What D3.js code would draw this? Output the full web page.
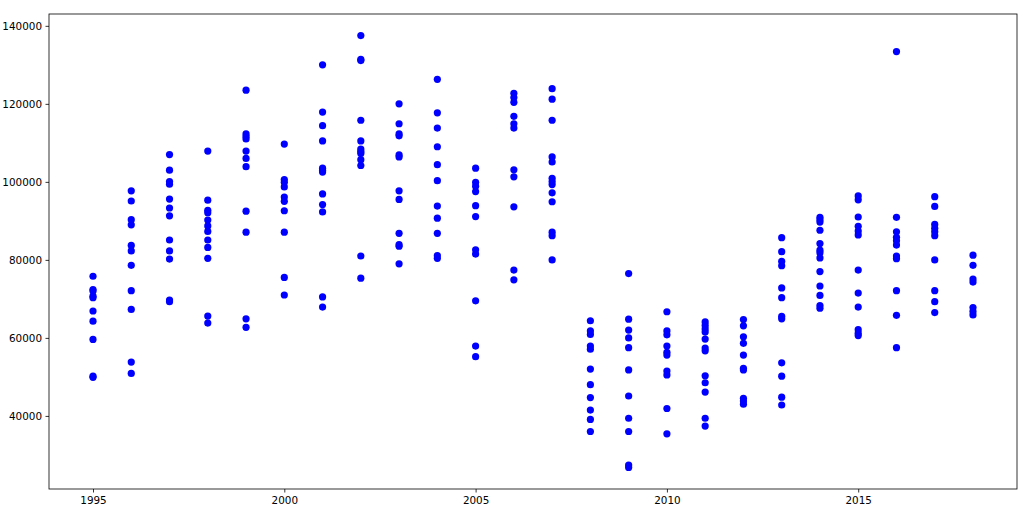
<!DOCTYPE html>
<html>
<head>
<meta charset="utf-8">
<script src="https://cdn.jsdelivr.net/npm/d3@7"></script>
<style>
  body { margin: 0; background: #fff; }
  .axis text { font-family: "DejaVu Sans", sans-serif; font-size: 10.4px; fill: #000; }
  .axis path, .axis line { stroke: #000; stroke-width: 0.8px; }
</style>
</head>
<body>
<div id="chart"></div>
<script>

	/* ---------------------------------
		Data
	------------------------------------*/

	// years on the x axis
	var years = [1995, 1996, 1997, 1998, 1999, 2000, 2001, 2002, 2003, 2004, 2005, 2006,
		2007, 2008, 2009, 2010, 2011, 2012, 2013, 2014, 2015, 2016, 2017, 2018];

	// values for each year (same order as years)
	var values1995 = [75800, 72400, 72000, 70700, 70300, 66900, 64300, 59600, 50200, 49900];
	var values1996 = [97700, 95100, 90300, 89000, 83700, 82300, 78600, 72100, 67300, 53800, 50900];
	var values1997 = [107000, 103000, 100100, 99400, 95600, 93300, 91300, 85100, 82300, 80200, 69700, 69300];
	var values1998 = [107900, 95300, 92700, 92100, 90200, 88700, 87300, 85100, 83200, 80400, 65600, 63800];
	var values1999 = [123500, 112300, 111600, 111000, 107900, 106000, 103900, 92500, 87100, 64900, 62700];
	var values2000 = [109700, 100600, 99900, 98700, 96100, 95000, 92600, 87100, 75500, 71000];
	var values2001 = [130000, 117900, 114400, 110500, 103500, 103000, 102500, 96900, 94200, 92300, 70500, 67900];
	var values2002 = [137500, 131400, 131100, 115800, 110500, 108400, 107800, 107300, 105700, 104200, 81000, 75300];
	var values2003 = [120000, 114900, 112300, 111800, 106900, 106400, 97700, 95500, 86800, 83900, 83500, 79000];
	var values2004 = [126300, 117700, 113800, 109000, 104400, 100300, 93800, 90700, 86800, 81100, 80400];
	var values2005 = [103500, 99900, 98900, 97500, 93900, 91100, 82600, 81500, 69500, 57900, 55200];
	var values2006 = [122700, 121600, 120400, 116800, 114900, 113800, 103100, 101300, 93600, 77400, 74900];
	var values2007 = [123900, 121200, 115800, 106400, 105100, 100900, 100100, 99300, 97200, 94900, 87100, 86200, 80000];
	var values2008 = [64400, 61800, 60900, 57900, 57100, 52000, 48000, 44700, 41500, 39100, 36000];
	var values2009 = [76500, 64800, 62000, 60000, 57500, 51800, 45100, 39400, 36000, 27400, 26800];
	var values2010 = [66700, 61800, 60800, 57900, 56300, 55600, 51500, 50500, 41900, 35400];
	var values2011 = [64100, 63200, 62300, 61500, 59700, 57400, 56700, 50300, 48500, 46100, 39400, 37400];
	var values2012 = [64700, 63100, 60300, 58600, 55600, 52200, 51800, 44500, 43800, 43000];
	var values2013 = [85700, 82100, 79600, 78500, 72800, 70300, 65500, 64900, 53600, 50200, 44800, 42800];
	var values2014 = [90900, 90300, 89700, 87600, 84200, 82500, 81800, 80500, 77000, 73300, 70900, 68300, 67600];
	var values2015 = [96400, 95400, 91000, 88600, 87400, 86400, 77400, 71500, 67900, 62100, 61200, 60600];
	var values2016 = [133400, 90900, 87200, 85800, 84900, 83800, 81000, 80300, 72100, 65800, 57500];
	var values2017 = [96200, 93700, 89100, 88100, 87200, 86200, 80000, 72100, 69300, 66500];
	var values2018 = [81200, 78600, 75100, 74300, 67800, 66800, 65900];

	var valuesByYear = [values1995, values1996, values1997, values1998, values1999, values2000,
		values2001, values2002, values2003, values2004, values2005, values2006,
		values2007, values2008, values2009, values2010, values2011, values2012,
		values2013, values2014, values2015, values2016, values2017, values2018];

	var xTicks = [1995, 2000, 2005, 2010, 2015];
	var yTicks = [40000, 60000, 80000, 100000, 120000, 140000];

	// flatten into points
	var points = [];
	years.forEach(function(yr, i) {
		valuesByYear[i].forEach(function(v) {
			points.push({ year: yr, value: v });
		});
	});


	/* ---------------------------------
		Setup
	------------------------------------*/

	var w = 1023;
	var h = 518;
	var margin = { top: 14, right: 6, bottom: 29, left: 49 };

	// matplotlib style 5% margins around the data
	var xMin = d3.min(points, function(d) { return d.year; });
	var xMax = d3.max(points, function(d) { return d.year; });
	var yMin = d3.min(points, function(d) { return d.value; });
	var yMax = d3.max(points, function(d) { return d.value; });
	var xPad = (xMax - xMin) * 0.05;
	var yPad = (yMax - yMin) * 0.05;

	var xScale = d3.scaleLinear()
		.domain([xMin - xPad, xMax + xPad])
		.range([margin.left, w - margin.right]);

	var yScale = d3.scaleLinear()
		.domain([yMin - yPad, yMax + yPad])
		.range([h - margin.bottom, margin.top]);

	var xAxis = d3.axisBottom(xScale)
		.tickValues(xTicks)
		.tickFormat(d3.format("d"))
		.tickSize(3.5)
		.tickPadding(4.5);

	var yAxis = d3.axisLeft(yScale)
		.tickValues(yTicks)
		.tickFormat(d3.format("d"))
		.tickSize(3.5)
		.tickPadding(3.5);


	/* ---------------------------------
		Draw
	------------------------------------*/

	var svg = d3.select("#chart")
		.append("svg")
		.attr("width", w)
		.attr("height", h);

	svg.selectAll("circle")
		.data(points)
		.enter()
		.append("circle")
		.attr("cx", function(d) { return xScale(d.year); })
		.attr("cy", function(d) { return yScale(d.value); })
		.attr("r", 3.6)
		.attr("fill", "#0000ff");

	svg.append("g")
		.attr("class", "axis")
		.attr("transform", "translate(0," + (h - margin.bottom) + ")")
		.call(xAxis)
		.call(function(g) { g.select(".domain").remove(); });

	svg.append("g")
		.attr("class", "axis")
		.attr("transform", "translate(" + margin.left + ",0)")
		.call(yAxis)
		.call(function(g) { g.select(".domain").remove(); });

	// frame around plot area
	svg.append("rect")
		.attr("x", margin.left)
		.attr("y", margin.top)
		.attr("width", w - margin.left - margin.right)
		.attr("height", h - margin.top - margin.bottom)
		.attr("fill", "none")
		.attr("stroke", "#000")
		.attr("stroke-width", 0.8);

</script>
</body>
</html>
